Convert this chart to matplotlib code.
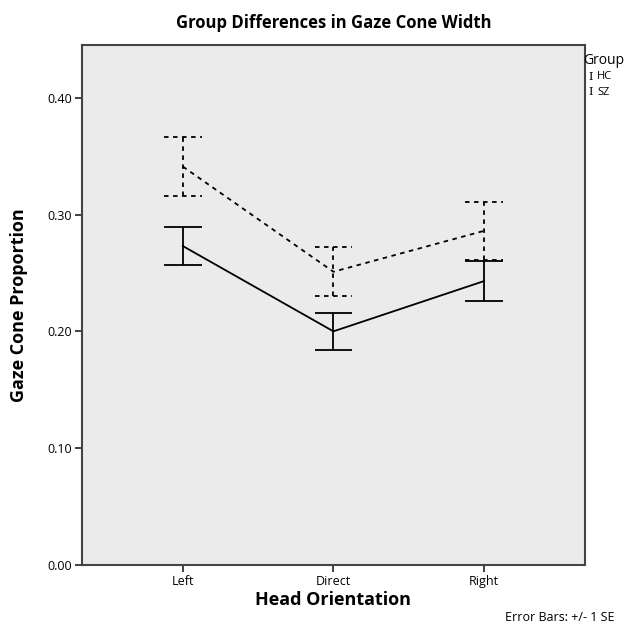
import matplotlib
matplotlib.use("Agg")
import matplotlib.pyplot as plt
import numpy as np

categories = ["Left", "Direct", "Right"]
groups = ["HC", "SZ"]
hc_mean = [0.273, 0.200, 0.243]
hc_se = [0.016, 0.016, 0.017]
sz_mean = [0.341, 0.251, 0.286]
sz_se = [0.025, 0.021, 0.025]
yticks = [0.0, 0.1, 0.2, 0.3, 0.4]

plt.rcParams["font.family"] = ["Open Sans", "DejaVu Sans"]

fig = plt.figure(figsize=(6.42, 6.35), dpi=100)
ax = fig.add_axes([0.1277, 0.1102, 0.7833, 0.8188])
ax.set_facecolor("#ebebeb")

x = np.arange(len(categories))
cap = 0.125
series = {"HC": (hc_mean, hc_se), "SZ": (sz_mean, sz_se)}

for g in groups:
    mean, se = series[g]
    mean = np.array(mean)
    se = np.array(se)
    ls = "-" if g == "HC" else (0, (2.5, 2.5))
    ax.plot(x, mean, color="black", lw=1.3, linestyle=ls, zorder=3)
    ax.vlines(x, mean - se, mean + se, colors="black", lw=1.3, linestyles=ls, zorder=3)
    ax.hlines(mean + se, x - cap, x + cap, colors="black", lw=1.3, linestyles=ls, zorder=3)
    ax.hlines(mean - se, x - cap, x + cap, colors="black", lw=1.3, linestyles=ls, zorder=3)

ax.set_xlim(-0.67, 2.67)
ax.set_ylim(0, 0.445)
ax.set_xticks(x)
ax.set_xticklabels(categories, fontsize=9)
ax.set_yticks(yticks)
ax.set_yticklabels([f"{v:.2f}" for v in yticks], fontsize=9)
ax.tick_params(axis="both", length=5, width=1.3, color="#333333", pad=2)
for s in ax.spines.values():
    s.set_color("#444444")
    s.set_linewidth(1.5)

ax.set_title("Group Differences in Gaze Cone Width", fontsize=12, fontweight="bold", pad=12)
ax.set_xlabel("Head Orientation", fontsize=13, fontweight="bold", labelpad=2)
ax.set_ylabel("Gaze Cone Proportion", fontsize=13, fontweight="bold", labelpad=14)

# legend drawn as text next to the plot
fig.text(0.908, 0.905, "Group", fontsize=10, ha="left", va="center")
for i, g in enumerate(groups):
    yy = 0.879 - i * 0.024
    fig.text(0.917, yy, "I", fontsize=8, ha="left", va="center", family="DejaVu Serif")
    fig.text(0.930, yy, g, fontsize=8, ha="left", va="center")

fig.text(0.957, 0.028, "Error Bars: +/- 1 SE", fontsize=9, ha="right", va="center")

fig.savefig("out.png", dpi=100)
